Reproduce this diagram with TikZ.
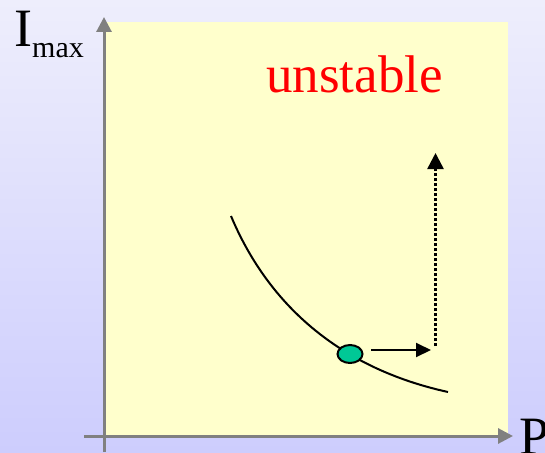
\documentclass[tikz,border=0pt]{standalone}
\usepackage{fontspec}
\setmainfont{Liberation Serif}
\usetikzlibrary{arrows.meta,shapes.geometric}
\definecolor{bgtop}{HTML}{EEEEFC}
\definecolor{bgbot}{HTML}{CDCDFD}
\definecolor{panel}{HTML}{FFFFCC}
\definecolor{axisgray}{HTML}{808080}
\definecolor{dotgreen}{HTML}{00C896}
\tikzset{
  axis/.style={draw=axisgray, line width=3pt, -{Triangle[length=15pt,width=15pt]}},
  curve/.style={draw=black, line width=2pt},
  moveto/.style={draw=black, line width=2pt, -{Triangle[length=15pt,width=14pt]}},
  rise/.style={draw=black, line width=2.5pt, dash pattern=on 3pt off 2pt, -{Triangle[length=16pt,width=16pt]}},
  bigtext/.style={inner sep=0pt, font=\fontsize{54}{60}\selectfont},
}
\begin{document}
\begin{tikzpicture}[x=1pt,y=-1pt]
\useasboundingbox (0,0) rectangle (545,452);
\shade[top color=bgtop, bottom color=bgbot] (0,0) rectangle (545,452);
\fill[panel] (105,22) rectangle (508,435);
% axes
\coordinate (ybot) at (104,452);
\coordinate (ytop) at (104,17);
\coordinate (xleft) at (84,436);
\coordinate (xright) at (513,436);
\draw[axis] (ybot) -- (ytop);
\draw[axis] (xleft) -- (xright);
% labels
\node[bigtext, anchor=base west] (ilab) at (14,46) {I\raisebox{-11pt}{\fontsize{30}{32}\selectfont max}};
\node[bigtext, anchor=north west] (plab) at (519,419) {P};
\node[bigtext, anchor=base west, text=red, font=\fontsize{53}{60}\selectfont] (unst) at (266,92) {unstable};
% curve
\coordinate (cstart) at (231,216);
\coordinate (cend) at (448,392);
\draw[curve] (cstart) .. controls (262,290) and (325,365) .. (cend);
% dot
\node[draw=black, line width=2pt, fill=dotgreen, ellipse, minimum width=25pt, minimum height=18pt, inner sep=0pt] (dot) at (350,354) {};
% arrows
\coordinate (astart) at (371,350);
\coordinate (aend) at (431,350);
\draw[moveto] (astart) -- (aend);
\coordinate (rstart) at (435.5,346);
\coordinate (rend) at (435.5,153);
\draw[rise] (rstart) -- (rend);
\end{tikzpicture}
\end{document}
